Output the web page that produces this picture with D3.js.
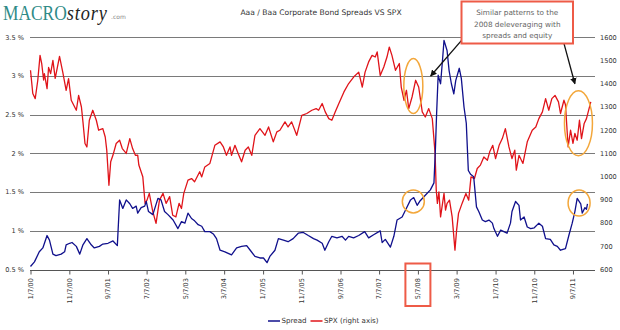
<!DOCTYPE html>
<html>
<head>
<meta charset="utf-8">
<script src="https://cdn.jsdelivr.net/npm/d3@7"></script>
<style>
  html, body { margin: 0; padding: 0; background: #fff; }
  svg { display: block; }
</style>
</head>
<body>
<svg id="chart" width="620" height="330"></svg>
<script>
// ---------------- DATA ----------------
const chartTitle = "Aaa / Baa Corporate Bond Spreads VS SPX";
const xTickLabels = ["1/7/00","11/7/00","9/7/01","7/7/02","5/7/03","3/7/04","1/7/05","11/7/05","9/7/06","7/7/07","5/7/08","3/7/09","1/7/10","11/7/10","9/7/11"];
const leftTicks = [0.5, 1, 1.5, 2, 2.5, 3, 3.5];
const rightTicks = [600, 700, 800, 900, 1000, 1100, 1200, 1300, 1400, 1500, 1600];
const seriesNames = ["Spread", "SPX (right axis)"];
const noteLines = ["Similar patterns to the", "2008 deleveraging with", "spreads and equity"];

const spreadSeries = [
["2000-01-07",0.54],["2000-02-07",0.60],["2000-03-16",0.73],["2000-04-13",0.78],["2000-05-16",0.94],["2000-06-04",0.88],
["2000-07-01",0.70],["2000-07-25",0.68],["2000-09-04",0.70],["2000-10-01",0.73],["2000-10-13",0.82],["2000-11-10",0.84],
["2000-11-28",0.85],["2001-01-01",0.80],["2001-01-28",0.70],["2001-02-22",0.82],["2001-03-25",0.90],["2001-04-28",0.82],
["2001-05-22",0.78],["2001-07-01",0.80],["2001-07-28",0.83],["2001-09-07",0.84],["2001-10-16",0.87],["2001-11-19",0.81],
["2001-12-07",1.40],["2002-01-01",1.29],["2002-01-28",1.40],["2002-02-25",1.35],["2002-03-19",1.29],["2002-04-16",1.32],
["2002-04-28",1.23],["2002-05-25",1.30],["2002-06-22",1.32],["2002-07-04",1.38],["2002-07-22",1.25],["2002-08-25",1.21],
["2002-10-04",1.42],["2002-10-28",1.40],["2002-11-25",1.25],["2002-12-22",1.21],["2003-01-31",1.14],["2003-03-10",1.03],
["2003-04-07",1.12],["2003-05-04",1.10],["2003-05-28",1.23],["2003-06-25",1.16],["2003-07-19",1.13],["2003-08-16",1.08],
["2003-09-13",1.06],["2003-10-07",0.99],["2003-11-16",0.99],["2003-12-13",0.96],["2004-01-07",0.90],["2004-02-04",0.75],
["2004-03-13",0.73],["2004-05-04",0.69],["2004-06-13",0.78],["2004-07-22",0.80],["2004-08-31",0.81],["2004-09-28",0.75],
["2004-11-04",0.67],["2004-12-13",0.65],["2005-01-10",0.65],["2005-02-07",0.59],["2005-03-01",0.67],["2005-04-10",0.75],
["2005-05-07",0.90],["2005-06-16",0.88],["2005-07-22",0.86],["2005-08-31",0.90],["2005-10-10",0.97],["2005-11-19",0.98],
["2005-12-28",0.94],["2006-02-07",0.90],["2006-03-07",0.88],["2006-04-16",0.84],["2006-05-07",0.75],["2006-06-07",0.86],
["2006-07-01",0.93],["2006-08-10",0.91],["2006-09-19",0.93],["2006-10-16",0.88],["2006-11-10",0.93],["2006-12-19",0.91],
["2007-01-28",0.94],["2007-03-16",0.99],["2007-04-16",0.91],["2007-05-25",0.95],["2007-07-16",1.00],["2007-07-31",0.85],
["2007-08-25",0.89],["2007-10-04",0.79],["2007-10-31",0.93],["2007-11-25",1.14],["2008-01-04",1.18],["2008-01-31",1.27],
["2008-03-10",1.40],["2008-04-04",1.43],["2008-05-01",1.33],["2008-05-25",1.39],["2008-07-04",1.46],["2008-08-13",1.53],
["2008-09-10",1.62],["2008-09-22",2.08],["2008-10-01",2.52],["2008-10-13",3.01],["2008-11-01",2.90],["2008-11-16",3.20],
["2008-11-28",3.46],["2008-12-22",3.33],["2009-01-07",3.07],["2009-01-25",2.90],["2009-02-13",2.77],["2009-02-28",2.94],
["2009-03-28",3.10],["2009-04-13",2.97],["2009-05-04",2.60],["2009-05-22",2.39],["2009-06-07",1.78],["2009-06-25",1.73],
["2009-07-19",1.70],["2009-08-10",1.31],["2009-08-28",1.25],["2009-09-25",1.14],["2009-10-19",1.12],["2009-11-16",1.14],
["2009-12-13",1.10],["2009-12-25",1.03],["2010-01-22",0.93],["2010-02-16",1.01],["2010-03-13",0.99],["2010-04-07",0.97],
["2010-05-04",1.10],["2010-05-16",1.25],["2010-06-13",1.38],["2010-07-10",1.33],["2010-07-22",1.14],["2010-08-19",1.18],
["2010-09-13",1.05],["2010-10-10",1.03],["2010-11-07",1.04],["2010-12-13",1.10],["2011-01-10",1.06],["2011-02-04",0.90],
["2011-03-13",0.89],["2011-04-10",0.82],["2011-05-07",0.80],["2011-06-01",0.75],["2011-07-10",0.77],["2011-08-07",0.95],
["2011-09-01",1.10],["2011-09-22",1.25],["2011-10-10",1.42],["2011-11-07",1.35],["2011-11-19",1.23],["2011-12-10",1.30],
["2011-12-22",1.28],["2011-12-30",1.35]
];

const spxSeries = [
["2000-01-07",1458],["2000-01-25",1358],["2000-02-13",1336],["2000-03-04",1414],["2000-03-22",1522],["2000-04-04",1487],
["2000-04-19",1416],["2000-04-25",1444],["2000-05-16",1379],["2000-05-28",1470],["2000-06-13",1444],["2000-07-01",1501],
["2000-07-19",1423],["2000-08-22",1518],["2000-09-16",1451],["2000-10-13",1372],["2000-11-01",1422],["2000-11-22",1329],
["2001-01-01",1286],["2001-01-19",1350],["2001-02-10",1300],["2001-02-22",1236],["2001-03-10",1143],["2001-03-25",1128],
["2001-04-13",1243],["2001-05-10",1286],["2001-06-07",1243],["2001-06-25",1200],["2001-07-28",1207],["2001-08-16",1171],
["2001-08-28",1114],["2001-09-14",963],["2001-09-28",1064],["2001-10-16",1093],["2001-11-10",1143],["2001-12-07",1157],
["2001-12-28",1121],["2002-01-28",1100],["2002-02-25",1164],["2002-03-19",1121],["2002-04-10",1092],["2002-04-28",1093],
["2002-05-07",1050],["2002-06-07",1000],["2002-06-25",885],["2002-07-10",899],["2002-07-28",928],["2002-08-25",849],
["2002-09-19",799],["2002-10-16",899],["2002-11-13",928],["2002-12-07",885],["2003-01-04",914],["2003-01-28",834],
["2003-02-22",827],["2003-03-19",885],["2003-04-07",863],["2003-04-25",928],["2003-05-28",985],["2003-06-25",992],
["2003-07-19",978],["2003-08-28",1021],["2003-09-13",999],["2003-10-07",1042],["2003-11-16",1057],["2003-12-25",1135],
["2004-02-04",1150],["2004-03-01",1128],["2004-03-25",1092],["2004-04-22",1128],["2004-05-04",1092],["2004-05-31",1135],
["2004-06-25",1100],["2004-07-22",1064],["2004-08-19",1114],["2004-09-13",1128],["2004-10-10",1092],["2004-11-04",1178],
["2004-12-13",1207],["2005-01-22",1178],["2005-02-19",1214],["2005-03-28",1150],["2005-04-25",1193],["2005-05-19",1200],
["2005-06-28",1236],["2005-07-22",1214],["2005-08-19",1236],["2005-09-28",1178],["2005-11-07",1264],["2005-12-16",1272],
["2006-01-25",1286],["2006-02-28",1293],["2006-03-19",1286],["2006-04-16",1315],["2006-05-10",1279],["2006-06-07",1250],
["2006-07-01",1243],["2006-07-28",1279],["2006-08-25",1315],["2006-10-04",1365],["2006-11-10",1401],["2006-12-19",1429],
["2007-01-28",1450],["2007-02-25",1386],["2007-03-19",1450],["2007-04-16",1494],["2007-05-13",1522],["2007-06-07",1515],
["2007-06-22",1537],["2007-07-16",1436],["2007-08-13",1472],["2007-09-07",1515],["2007-09-25",1558],["2007-10-16",1522],
["2007-11-13",1458],["2007-12-13",1487],["2007-12-28",1386],["2008-01-19",1329],["2008-02-07",1372],["2008-02-25",1293],
["2008-03-22",1343],["2008-04-19",1415],["2008-05-13",1386],["2008-06-10",1279],["2008-07-04",1257],["2008-07-31",1293],
["2008-08-28",1250],["2008-09-19",1100],["2008-09-28",942],["2008-10-07",885],["2008-10-19",935],["2008-11-01",827],
["2008-11-28",928],["2008-12-10",856],["2008-12-22",885],["2009-01-10",899],["2009-01-31",827],["2009-02-22",684],
["2009-03-07",770],["2009-03-22",842],["2009-04-19",885],["2009-05-19",928],["2009-06-10",899],["2009-06-28",999],
["2009-07-25",992],["2009-08-16",1035],["2009-09-10",1050],["2009-10-07",1085],["2009-11-04",1071],["2009-11-22",1107],
["2009-12-16",1135],["2010-01-07",1078],["2010-02-04",1135],["2010-03-01",1164],["2010-03-25",1207],["2010-04-22",1128],
["2010-05-16",1078],["2010-06-07",1114],["2010-06-19",1028],["2010-07-10",1092],["2010-08-10",1057],["2010-08-31",1114],
["2010-09-13",1150],["2010-10-22",1200],["2010-11-19",1214],["2010-12-13",1250],["2011-01-10",1279],["2011-02-04",1336],
["2011-03-01",1286],["2011-03-25",1336],["2011-04-19",1350],["2011-05-16",1322],["2011-06-01",1272],["2011-06-28",1329],
["2011-07-10",1310],["2011-07-31",1128],["2011-08-19",1200],["2011-09-07",1143],["2011-09-22",1186],["2011-10-10",1157],
["2011-10-28",1243],["2011-11-13",1164],["2011-12-04",1229],["2011-12-22",1250],["2012-01-25",1322]
];

// ---------------- CHART ----------------
const svg = d3.select("#chart");
const parseISO = d3.timeParse("%Y-%m-%d");
const parseTick = d3.timeParse("%-m/%-d/%y");
const font = "DejaVu Sans, Verdana, sans-serif";

const margin = { left: 30.5, right: 595, top: 37.3, bottom: 269.6 };
const x = d3.scaleTime()
  .domain([parseISO("2000-01-07"), parseISO("2012-02-27")])
  .range([margin.left, margin.right]);
const yL = d3.scaleLinear().domain([0.5, 3.5]).range([margin.bottom, margin.top]);
const yR = d3.scaleLinear().domain([600, 1600]).range([margin.bottom, margin.top]);

// gridlines
svg.append("g")
  .selectAll("line").data(leftTicks.filter(d => d > 0.5)).join("line")
  .attr("x1", margin.left - 0.5).attr("x2", margin.right)
  .attr("y1", d => Math.round(yL(d)) + 0.5).attr("y2", d => Math.round(yL(d)) + 0.5)
  .attr("stroke", "#7a7a7a").attr("stroke-width", 1);

// left axis labels
svg.append("g").selectAll("text").data(leftTicks).join("text")
  .attr("x", 24).attr("y", d => yL(d)).attr("dy", "0.35em")
  .attr("text-anchor", "end")
  .attr("font-family", font).attr("font-size", 6.6).attr("fill", "#333")
  .text(d => d + " %");

// right axis labels
svg.append("g").selectAll("text").data(rightTicks).join("text")
  .attr("x", 600).attr("y", d => yR(d)).attr("dy", "0.35em")
  .attr("text-anchor", "start")
  .attr("font-family", font).attr("font-size", 6.6).attr("fill", "#333")
  .text(d => d);

// x axis
const tickDates = xTickLabels.map(parseTick);
const xAxis = d3.axisBottom(x).tickValues(tickDates).tickSize(4).tickFormat("");
const gx = svg.append("g").attr("transform", `translate(0,${Math.round(margin.bottom) + 0.5})`).call(xAxis);
gx.select(".domain").attr("stroke", "#555").attr("d", `M${margin.left - 0.5},0H${margin.right}`);
gx.selectAll(".tick line").attr("stroke", "#555");
svg.append("g").selectAll("text").data(xTickLabels).join("text")
  .attr("transform", d => `translate(${x(parseTick(d))},${278}) rotate(-90)`)
  .attr("dy", "0.35em").attr("text-anchor", "end")
  .attr("font-family", font).attr("font-size", 6.6).attr("fill", "#333")
  .text(d => d);

// lines
const spreadLine = d3.line().x(d => x(parseISO(d[0]))).y(d => yL(d[1]));
const spxLine = d3.line().x(d => x(parseISO(d[0]))).y(d => yR(d[1]));
svg.append("path").datum(spxSeries).attr("d", spxLine)
  .attr("fill", "none").attr("stroke", "#e0141a").attr("stroke-width", 1.3).attr("stroke-linejoin", "round");
svg.append("path").datum(spreadSeries).attr("d", spreadLine)
  .attr("fill", "none").attr("stroke", "#10108c").attr("stroke-width", 1.3).attr("stroke-linejoin", "round");

// title
svg.append("text").attr("x", 321).attr("y", 15).attr("text-anchor", "middle")
  .attr("font-family", font).attr("font-size", 7.6).attr("fill", "#333").text(chartTitle);

// logo (single text element with tspans, horizontally condensed)
const logo = svg.append("text")
  .attr("transform", "translate(3,19.5) scale(0.87,1)")
  .attr("font-family", "Liberation Serif, Times New Roman, serif");
logo.append("tspan").attr("font-size", 20).attr("fill", "#2f8b87").text("MACRO");
logo.append("tspan").attr("font-size", 21).attr("font-style", "italic").attr("fill", "#222")
  .attr("letter-spacing", 1).text("story");
svg.append("text").attr("x", 111).attr("y", 19)
  .attr("font-family", font).attr("font-size", 6).attr("fill", "#888").text(".com");

// legend
const legend = svg.append("g");
const legendItems = [
  { name: seriesNames[0], color: "#10108c", x0: 268 },
  { name: seriesNames[1], color: "#e0141a", x0: 310.5 }
];
legendItems.forEach(it => {
  legend.append("line").attr("x1", it.x0).attr("x2", it.x0 + 12).attr("y1", 321).attr("y2", 321)
    .attr("stroke", it.color).attr("stroke-width", 1.5);
  legend.append("text").attr("x", it.x0 + 13.5).attr("y", 321).attr("dy", "0.35em")
    .attr("font-family", font).attr("font-size", 7.1).attr("fill", "#333").text(it.name);
});

// annotations
const ann = svg.append("g");
const orange = "#f3a73b";
const boxRed = "#ee5b47";
const defs = svg.append("defs");
defs.append("marker").attr("id", "ah").attr("viewBox", "0 0 10 10").attr("refX", 9).attr("refY", 5)
  .attr("markerWidth", 5).attr("markerHeight", 5).attr("orient", "auto-start-reverse")
  .append("path").attr("d", "M0,0L10,5L0,10z").attr("fill", "#111");

ann.append("line").attr("x1", x(parseISO("2009-04-20"))).attr("y1", yL(3.47))
  .attr("x2", x(parseISO("2008-08-15"))).attr("y2", yL(3.0))
  .attr("stroke", "#111").attr("stroke-width", 1.3).attr("marker-end", "url(#ah)");
ann.append("line").attr("x1", x(parseISO("2011-06-20"))).attr("y1", yL(3.47))
  .attr("x2", x(parseISO("2011-09-22"))).attr("y2", yL(2.9))
  .attr("stroke", "#111").attr("stroke-width", 1.3).attr("marker-end", "url(#ah)");

const ellipses = [
  { d: "2008-04-01", v: 1390, axis: "R", rx: 9.5, ry: 27.5 },
  { d: "2008-04-01", v: 1.38, axis: "L", rx: 11, ry: 11.5 },
  { d: "2011-10-20", v: 1230, axis: "R", rx: 14, ry: 32.5 },
  { d: "2011-10-25", v: 1.36, axis: "L", rx: 11, ry: 13 }
];
ann.selectAll("ellipse").data(ellipses).join("ellipse")
  .attr("cx", e => x(parseISO(e.d)))
  .attr("cy", e => e.axis === "R" ? yR(e.v) : yL(e.v))
  .attr("rx", e => e.rx).attr("ry", e => e.ry)
  .attr("fill", "none").attr("stroke", orange).attr("stroke-width", 1.5);

const bx = 461.5, by = 1.5, bw = 111.5, bh = 42;
ann.append("rect").attr("x", bx).attr("y", by).attr("width", bw).attr("height", bh)
  .attr("fill", "#fff").attr("stroke", boxRed).attr("stroke-width", 2);
ann.selectAll("text.note").data(noteLines).join("text").attr("class", "note")
  .attr("x", bx + bw / 2).attr("y", (d, i) => 12.7 + i * 11.4).attr("dy", "0.35em")
  .attr("text-anchor", "middle").attr("font-family", font).attr("font-size", 7.3).attr("fill", "#666")
  .text(d => d);

const hx = x(parseTick("5/7/08"));
ann.append("rect").attr("x", hx - 12.5).attr("y", 263.5).attr("width", 25).attr("height", 42.5)
  .attr("fill", "none").attr("stroke", boxRed).attr("stroke-width", 2);
</script>
</body>
</html>
